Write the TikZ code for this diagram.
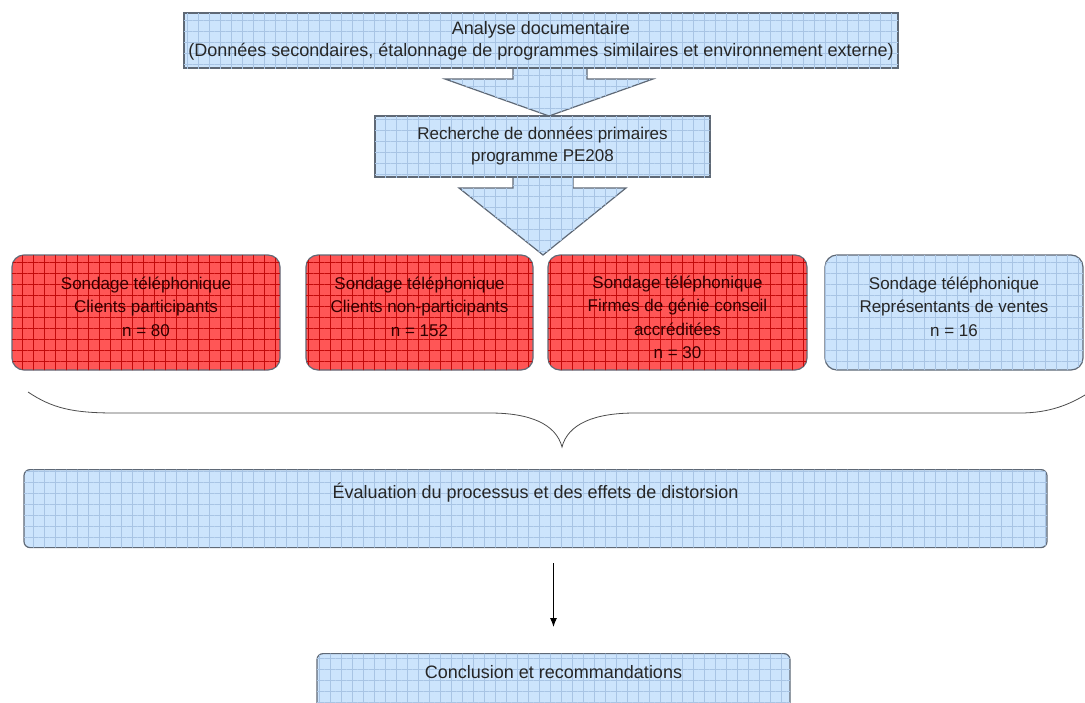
\documentclass[tikz,border=0pt]{standalone}
\usepackage{fontspec}
\setmainfont{Liberation Sans}
\usetikzlibrary{patterns.meta,arrows.meta}

\definecolor{boxblue}{RGB}{204,228,252}
\definecolor{gridblue}{RGB}{168,196,228}
\definecolor{boxred}{RGB}{255,86,86}
\definecolor{gridred}{RGB}{195,10,10}
\definecolor{boxline}{RGB}{95,105,118}

\tikzset{
  bluebox/.style={draw=boxline, line width=1.2pt, fill=boxblue,
    postaction={pattern={Hatch[distance=11pt,line width=0.3pt]}, pattern color=gridblue},
    text=black!85, align=center, inner sep=0pt},
  redbox/.style={draw=boxline, line width=1.2pt, fill=boxred, rounded corners=12pt,
    postaction={pattern={Hatch[distance=11pt,line width=0.35pt]}, pattern color=gridred},
    inner sep=0pt},
  blockarrow/.style={draw=boxline, line width=1.2pt, fill=boxblue, line join=miter,
    postaction={pattern={Hatch[distance=11pt,line width=0.3pt]}, pattern color=gridblue}},
  boxtext/.style={align=center, inner sep=0pt, font=\fontsize{17}{23.5}\selectfont},
}

\begin{document}
\begin{tikzpicture}[x=1pt, y=-1pt, font=\fontsize{17}{22}\selectfont]

  \useasboundingbox (0,0) rectangle (1085,702);
  \clip (0,0) rectangle (1085,702);

  % Draw the block arrows
  \filldraw[blockarrow] (513,64) -- (513,79) -- (445,79) -- (549,116) -- (653,79) -- (587,79) -- (587,64);
  \filldraw[blockarrow] (513,173) -- (513,188) -- (459,188) -- (543,255) -- (626,188) -- (573,188) -- (573,173);

  % Analyse and recherche
  \node[bluebox, minimum width=714pt, minimum height=55pt, font=\fontsize{18}{22}\selectfont] (ana) at (541,40.5)
    {Analyse documentaire\\(Données secondaires, étalonnage de programmes similaires et environnement externe)};
  \node[bluebox, minimum width=335pt, minimum height=61pt] (rech) at (542.5,146.5)
    {Recherche de données primaires\\programme PE208};

  % Sondages
  \def\sy{312.5}
  \foreach \nm/\x/\w/\st/\col/\dy/\txt in {
      sA/146/268/redbox/black!80!red/6/{Sondage téléphonique\\Clients participants\\n = 80},
      sB/419.5/227/redbox/black!80!red/6/{Sondage téléphonique\\Clients non-participants\\n = 152},
      sC/677.5/259/redbox/black!80!red/-5/{Sondage téléphonique\\Firmes de génie conseil\\accréditées\\n = 30},
      sD/954/258/bluebox/black!85/6/{Sondage téléphonique\\Représentants de ventes\\n = 16}} {
    \node[\st, rounded corners=12pt, minimum width=\w pt, minimum height=115pt] (\nm) at (\x,\sy) {};
    \node[boxtext, text=\col] (\nm txt) at ([yshift=\dy pt]\nm.center) {\txt};
  }

  % Brace
  \draw[black!70, line width=0.8pt] (28,392) .. controls (52,408) and (72,413) .. (115,413)
    -- (490,413) .. controls (530,413) and (556,424) .. (562,447)
    .. controls (568,424) and (594,413) .. (635,413)
    -- (1020,413) .. controls (1050,413) and (1070,404) .. (1085,395);

  % Evaluation and conclusion
  \node[bluebox, rounded corners=6pt, anchor=north, minimum width=1023pt,
    text height=29pt, text depth=49pt, font=\fontsize{18}{22}\selectfont] (eval) at (535.5,469)
    {Évaluation du processus et des effets de distorsion};
  \node[bluebox, rounded corners=6pt, anchor=north, minimum width=473pt,
    text height=25pt, text depth=35pt, font=\fontsize{18}{22}\selectfont] (concl) at (553.5,653)
    {Conclusion et recommandations};

  \draw[-{Latex[length=9pt,width=7pt]}, line width=1pt, shorten <=15pt, shorten >=26pt]
    (eval.south -| concl.north) -- (concl.north);

\end{tikzpicture}
\end{document}
